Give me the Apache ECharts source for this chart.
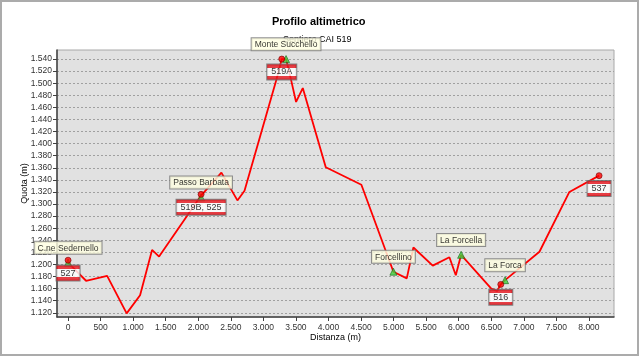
<!DOCTYPE html>
<html><head><meta charset="utf-8">
<script src="https://cdn.jsdelivr.net/npm/echarts@6/dist/echarts.min.js"></script>
<style>html,body{margin:0;padding:0;background:#fff}#c{width:640px;height:357px}</style>
</head><body><div id="c"></div>
<script>
// Profile data (distance in m, altitude in m)
var distances = [0, 276, 600, 900, 1106, 1290, 1398, 2043, 2355, 2601, 2710, 3205, 3282, 3348, 3420, 3502, 3605, 3958, 4505, 4997, 5202, 5304, 5601, 5857, 5955, 6037, 6500, 6590, 6646, 6712, 7240, 7700, 8156];
var altitudes = [1203, 1173, 1181, 1119, 1149, 1224, 1213, 1314, 1352, 1306, 1322, 1508, 1540, 1540, 1508, 1469, 1492, 1361, 1332, 1188, 1177, 1228, 1198, 1212, 1182, 1216, 1160, 1156, 1167, 1174, 1221, 1320, 1347];

// Trail signs (red dots)
var signNames = ['527', '519B, 525', '519A', '516', '537'];
var signX = [0, 2043, 3282, 6646, 8156];
var signY = [1207, 1316, 1540, 1167, 1347];

// Places (green triangles)
var placeNames = ['C.ne Sedernello', 'Passo Barbata', 'Monte Succhello', 'Forcellino', 'La Forcella', 'La Forca'];
var placeX = [0, 2043, 3348, 4997, 6037, 6712];
var placeY = [1203, 1311, 1540, 1188, 1216, 1174];

var yTicks = [1120,1140,1160,1180,1200,1220,1240,1260,1280,1300,1320,1340,1360,1380,1400,1420,1440,1460,1480,1500,1520,1540];
var xTicks = [0,500,1000,1500,2000,2500,3000,3500,4000,4500,5000,5500,6000,6500,7000,7500,8000];

function fmt(v){ return String(v).replace(/\B(?=(\d{3})+(?!\d))/g, '.'); }
function zip(a,b,n){ return a.map(function(v,i){ var o={value:[v,b[i]]}; if(n) o.name=n[i]; return o; }); }

var FONT = 'Liberation Sans';
var chart = echarts.init(document.getElementById('c'), null, {renderer:'canvas'});
var signBg = new echarts.graphic.LinearGradient(0,0,0,1,[
  {offset:0,color:'#e8141c'},{offset:0.25,color:'#e8141c'},
  {offset:0.25,color:'#ffffff'},{offset:0.75,color:'#ffffff'},
  {offset:0.75,color:'#e8141c'},{offset:1,color:'#e8141c'}]);

chart.setOption({
  animation:false,
  backgroundColor:'#ffffff',
  graphic:[{type:'rect', shape:{x:1,y:1,width:637,height:354}, style:{fill:'none',stroke:'#ababab',lineWidth:2}, z:-1}],
  title:[
    {text:'Profilo altimetrico', left:272, top:16, padding:0, z:0, textStyle:{fontFamily:FONT,fontSize:11,fontWeight:'bold',color:'#000'}},
    {text:'Sentiero CAI 519', left:283, top:35, padding:0, z:0, textStyle:{fontFamily:FONT,fontSize:9,fontWeight:'normal',color:'#000'}}
  ],
  grid:{left:57,right:26,top:50,bottom:40,show:true,backgroundColor:'#e1e1e1',borderColor:'#a8a8a8',borderWidth:1},
  xAxis:{
    type:'value', min:-170, max:8385,
    name:'Distanza (m)', nameLocation:'middle', nameGap:16, nameMoveOverlap:false,
    nameTextStyle:{fontFamily:FONT,fontSize:9,color:'#000'},
    axisLine:{show:true,onZero:false,lineStyle:{color:'#404040',width:1.5}},
    axisTick:{show:true,length:4,customValues:xTicks,lineStyle:{color:'#404040'}},
    axisLabel:{customValues:xTicks,formatter:fmt,margin:6,fontFamily:FONT,fontSize:8.5,color:'#333'},
    splitLine:{show:false}
  },
  yAxis:{
    type:'value', min:1113, max:1555,
    name:'Quota (m)', nameLocation:'middle', nameGap:28, nameRotate:90, nameMoveOverlap:false,
    nameTextStyle:{fontFamily:FONT,fontSize:9,color:'#000'},
    axisLine:{show:true,onZero:false,lineStyle:{color:'#404040',width:1.5}},
    axisTick:{show:true,length:4,customValues:yTicks,lineStyle:{color:'#404040'}},
    axisLabel:{customValues:yTicks,formatter:fmt,margin:5,fontFamily:FONT,fontSize:8.5,color:'#333'},
    splitLine:{show:true,lineStyle:{color:'#a0a0a0',type:[2,2],width:1}}
  },
  series:[
    {type:'line', data:zip(distances,altitudes), showSymbol:false, symbol:'none',
     lineStyle:{color:'#ff0000',width:1.8}, z:3},
    {type:'scatter', data:zip(placeX,placeY,placeNames), symbol:'triangle', symbolSize:7,
     itemStyle:{color:'#3cd23c',borderColor:'#1a6a1a',borderWidth:0.8}, z:4,
     label:{show:true,position:'top',distance:5,formatter:'{b}',fontFamily:FONT,fontSize:8.5,color:'#000',
       backgroundColor:'#ffffe1',borderColor:'#777',borderWidth:1,padding:[2,3,1,3]}},
    {type:'scatter', data:zip(signX,signY,signNames), symbol:'circle', symbolSize:6,
     itemStyle:{color:'#ff0000',borderColor:'#7a0000',borderWidth:0.8}, z:5,
     label:{show:true,position:'bottom',distance:2,formatter:'{b}',fontFamily:FONT,fontSize:9,color:'#000',
       lineHeight:9, backgroundColor:signBg,borderColor:'#666',borderWidth:1,padding:[3,4,3,4]}}
  ]
});
</script></body></html>
